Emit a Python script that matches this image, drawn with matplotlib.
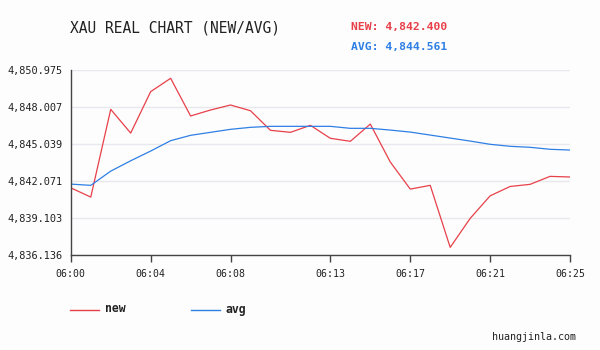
import matplotlib.pyplot as plt
from matplotlib.lines import Line2D

minutes = list(range(26))
new = [4841.53, 4840.79, 4847.82, 4845.92, 4849.24, 4850.31, 4847.29, 4847.77, 4848.17,
       4847.71, 4846.14, 4845.98, 4846.54, 4845.50, 4845.26, 4846.64, 4843.60, 4841.43,
       4841.73, 4836.76, 4839.08, 4840.89, 4841.64, 4841.81, 4842.45, 4842.40]
avg = [4841.83, 4841.73, 4842.87, 4843.70, 4844.48, 4845.31, 4845.74, 4845.98, 4846.22,
       4846.38, 4846.46, 4846.46, 4846.46, 4846.46, 4846.30, 4846.30, 4846.16, 4846.00,
       4845.76, 4845.52, 4845.28, 4845.02, 4844.86, 4844.78, 4844.62, 4844.56]
yticks = [4836.136, 4839.103, 4842.071, 4845.039, 4848.007, 4850.975]
xtick_pos = [0, 4, 8, 13, 17, 21, 25]
xtick_labels = ['06:00', '06:04', '06:08', '06:13', '06:17', '06:21', '06:25']

red = '#e8404a'
blue = '#2f7fe5'
bg = '#fcfdfc'
mono = 'DejaVu Sans Mono'

fig = plt.figure(figsize=(6, 3.5), dpi=100, facecolor=bg)
ax = fig.add_axes([0.118, 0.271, 0.832, 0.529], facecolor=bg)

ax.plot(minutes, new, color=red, lw=0.9)
ax.plot(minutes, avg, color=blue, lw=0.9)

ax.set_xlim(0, 25)
ax.set_ylim(yticks[0], yticks[-1])
ax.set_yticks(yticks)
ax.set_yticklabels([f'{v:,.3f}' for v in yticks], fontsize=7.4, family=mono, color='#222')
ax.set_xticks(xtick_pos)
ax.set_xticklabels(xtick_labels, fontsize=7.1, family=mono, color='#222')
ax.tick_params(axis='y', length=0, pad=6)
ax.tick_params(axis='x', length=5, width=1, color='#444', pad=5)
ax.grid(axis='y', color='#e8e8ee', lw=1)
for s in ['top', 'right']:
    ax.spines[s].set_visible(False)
for s in ['left', 'bottom']:
    ax.spines[s].set_color('#444')
    ax.spines[s].set_linewidth(1)

fig.text(70 / 600, 1 - 28 / 350, 'XAU REAL CHART (NEW/AVG)', fontsize=10.5, family=mono,
         color='#222', va='center')
fig.text(351 / 600, 1 - 27 / 350, f'NEW: {new[-1]:,.3f}', fontsize=8.2, family=mono,
         color=red, weight='bold', va='center')
fig.text(351 / 600, 1 - 47 / 350, 'AVG: 4,844.561', fontsize=8.2, family=mono,
         color=blue, weight='bold', va='center')

# legend
fig.add_artist(Line2D([70 / 600, 99 / 600], [1 - 310 / 350] * 2, color=red, lw=1))
fig.text(105 / 600, 1 - 309 / 350, 'new', fontsize=8.3, family=mono, weight='bold',
         color='#222', va='center')
fig.add_artist(Line2D([191 / 600, 220 / 600], [1 - 310 / 350] * 2, color=blue, lw=1))
fig.text(226 / 600, 1 - 309 / 350, 'avg', fontsize=8.3, family=mono, weight='bold',
         color='#222', va='center')

fig.text(576 / 600, 1 - 337 / 350, 'huangjinla.com', fontsize=7.2, family=mono,
         color='#222', ha='right', va='center')

fig.savefig('out.png', dpi=100, facecolor=bg)
